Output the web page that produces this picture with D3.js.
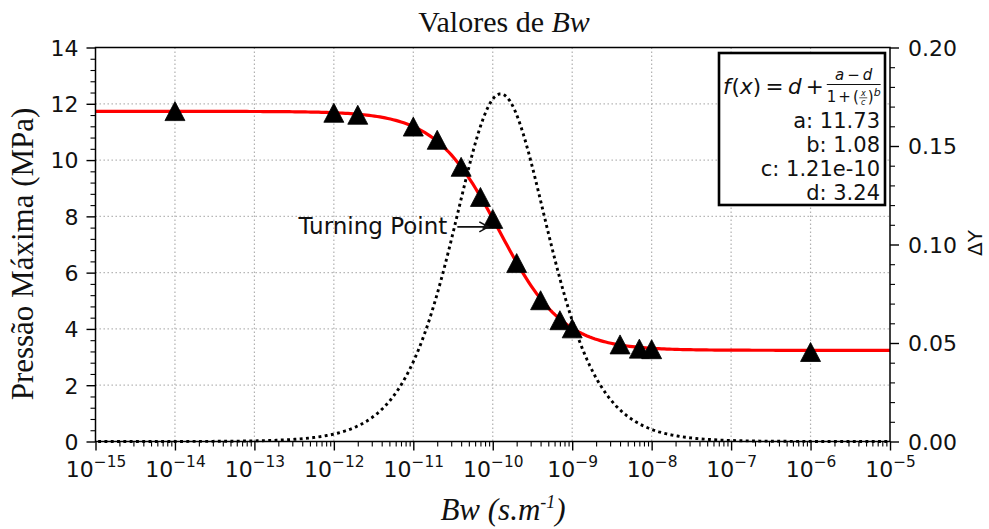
<!DOCTYPE html>
<html>
<head>
<meta charset="utf-8">
<script src="https://cdn.jsdelivr.net/npm/d3@7"></script>
<style>
  body { margin: 0; background: #fff; }
  svg { display: block; }
</style>
</head>
<body>
<svg id="chart" width="989" height="529"></svg>
<script>
// Measured maximum pressure for each Bw value
const bwValues = [1e-14, 1e-12, 2e-12, 1e-11, 2e-11, 4e-11, 7e-11, 1e-10, 2e-10, 4e-10, 7e-10, 1e-9, 4e-9, 7e-9, 1e-8, 1e-6];
const pressureValues = [11.74, 11.68, 11.61, 11.19, 10.72, 9.76, 8.69, 7.91, 6.34, 5.02, 4.31, 4.02, 3.45, 3.30, 3.28, 3.18];

// Logistic fit parameters, shown in the box
const fitNames = ["a", "b", "c", "d"];
const fitValues = [11.73, 1.08, 1.21e-10, 3.24];
const fitTexts = ["11.73", "1.08", "1.21e-10", "3.24"];

// Axis ticks
const xDecades = [-15, -14, -13, -12, -11, -10, -9, -8, -7, -6, -5];
const leftTicks = [0, 2, 4, 6, 8, 10, 12, 14];
const rightTicks = [0, 0.05, 0.10, 0.15, 0.20];

// Sampling grid for the fitted curve (log-spaced)
const gridN = 300;

const [fitA, fitB, fitC, fitD] = fitValues;
const fit = v => fitD + (fitA - fitD) / (1 + Math.pow(v / fitC, fitB));

const L = 95.5, R = 890, T = 47.5, B = 441.5;
const sans = "'DejaVu Sans', sans-serif";
const serif = "'Liberation Serif', 'Times New Roman', serif";

const svg = d3.select("#chart");
const x = d3.scaleLog().domain([1e-15, 1e-5]).range([L, R]);
const y = d3.scaleLinear().domain([0, 14]).range([B, T]);
const y2 = d3.scaleLinear().domain([0, 0.2]).range([B, T]);

// ---- grid ----
const grid = svg.append("g")
  .attr("stroke", "#b0b0b0").attr("stroke-width", 1.2).attr("stroke-dasharray", "1.4,2.6");
grid.selectAll("line.gx").data(xDecades.slice(1, -1)).join("line")
  .attr("class", "gx")
  .attr("x1", d => x(Math.pow(10, d))).attr("x2", d => x(Math.pow(10, d)))
  .attr("y1", T).attr("y2", B);
grid.selectAll("line.gy").data(leftTicks.slice(1, -1)).join("line")
  .attr("class", "gy")
  .attr("x1", L).attr("x2", R)
  .attr("y1", d => y(d)).attr("y2", d => y(d));

// ---- axes ----
function styleAxis(g, width) {
  g.select(".domain").remove();
  g.selectAll(".tick line").attr("stroke", "#000").attr("stroke-width", width);
}

const xMinor = [];
xDecades.slice(0, -1).forEach(d => { for (let k = 2; k <= 9; k++) xMinor.push(k * Math.pow(10, d)); });

svg.append("g").attr("transform", `translate(0,${B})`)
  .call(d3.axisBottom(x).tickValues(xMinor).tickSize(5).tickSizeOuter(0).tickFormat(""))
  .call(g => styleAxis(g, 1.1));

const xAxisG = svg.append("g").attr("transform", `translate(0,${B})`)
  .call(d3.axisBottom(x).tickValues(xDecades.map(d => Math.pow(10, d))).tickSize(9).tickSizeOuter(0).tickFormat(""))
  .call(g => styleAxis(g, 1.4));
xAxisG.selectAll(".tick").each(function (v, i) {
  const t = d3.select(this).select("text")
    .attr("y", 35.5).attr("dy", null)
    .attr("font-family", sans).attr("font-size", 22).attr("fill", "#111")
    .attr("text-anchor", "middle");
  t.append("tspan").text("10");
  t.append("tspan").attr("dy", -10).attr("font-size", 15.4).text("\u2212" + Math.abs(xDecades[i]));
});

const leftMinor = d3.range(0, 14.001, 0.4).filter(v => Math.abs(v / 2 - Math.round(v / 2)) > 1e-6);
svg.append("g").attr("transform", `translate(${L},0)`)
  .call(d3.axisLeft(y).tickValues(leftMinor).tickSize(5).tickSizeOuter(0).tickFormat(""))
  .call(g => styleAxis(g, 1.1));
svg.append("g").attr("transform", `translate(${L},0)`)
  .call(d3.axisLeft(y).tickValues(leftTicks).tickSize(9).tickPadding(8).tickSizeOuter(0).tickFormat(d3.format("d")))
  .call(g => styleAxis(g, 1.4))
  .call(g => g.selectAll("text").attr("font-family", sans).attr("font-size", 22).attr("fill", "#111").attr("dy", "0.36em"));

const rightMinor = d3.range(0, 0.2001, 0.01).filter(v => Math.abs(v / 0.05 - Math.round(v / 0.05)) > 1e-6);
svg.append("g").attr("transform", `translate(${R},0)`)
  .call(d3.axisRight(y2).tickValues(rightMinor).tickSize(5).tickSizeOuter(0).tickFormat(""))
  .call(g => styleAxis(g, 1.1));
svg.append("g").attr("transform", `translate(${R},0)`)
  .call(d3.axisRight(y2).tickValues(rightTicks).tickSize(9).tickPadding(9).tickSizeOuter(0).tickFormat(d3.format(".2f")))
  .call(g => styleAxis(g, 1.4))
  .call(g => g.selectAll("text").attr("font-family", sans).attr("font-size", 22).attr("fill", "#111").attr("dy", "0.36em"));

// ---- fitted curve and its increments ----
const sampleX = d3.range(gridN).map(i => Math.pow(10, -15 + 10 * i / (gridN - 1)));
const fitY = sampleX.map(fit);
const deltaPts = fitY.slice(1).map((v, i) => [sampleX[i + 1], Math.abs(v - fitY[i])]);

const plot = svg.append("g");
plot.append("path")
  .datum(sampleX.map((v, i) => [v, fitY[i]]))
  .attr("fill", "none").attr("stroke", "#ff0000").attr("stroke-width", 3.2)
  .attr("d", d3.line().x(d => x(d[0])).y(d => y(d[1])));

plot.selectAll("path.tri").data(bwValues).join("path")
  .attr("class", "tri")
  .attr("d", "M0,-9.5L10,9.5L-10,9.5Z")
  .attr("transform", (d, i) => `translate(${x(d)},${y(pressureValues[i])})`)
  .attr("fill", "#000").attr("stroke", "#000").attr("stroke-width", 0.8);

plot.append("path")
  .datum(deltaPts)
  .attr("fill", "none").attr("stroke", "#000").attr("stroke-width", 2.9)
  .attr("stroke-dasharray", "2.9,3.4")
  .attr("d", d3.line().x(d => x(d[0])).y(d => y2(d[1])));

// ---- spines ----
svg.append("rect").attr("x", L).attr("y", T).attr("width", R - L).attr("height", B - T)
  .attr("fill", "none").attr("stroke", "#000").attr("stroke-width", 1.5);

// ---- turning point annotation ----
const tpX = x(fitC), tpY = y((fitA + fitD) / 2) - 4;
const ann = svg.append("g");
ann.append("text").attr("x", tpX - 52).attr("y", tpY + 7)
  .attr("text-anchor", "end").attr("font-family", sans).attr("font-size", 23).attr("fill", "#111")
  .text("Turning Point");
ann.append("path")
  .attr("d", `M${tpX - 42},${tpY}L${tpX - 11},${tpY}M${tpX - 20},${tpY - 5}L${tpX - 11},${tpY}L${tpX - 20},${tpY + 5}`)
  .attr("fill", "none").attr("stroke", "#111").attr("stroke-width", 1.6);

// ---- fit box ----
const box = svg.append("g");
box.append("rect").attr("x", 719).attr("y", 53).attr("width", 166).attr("height", 152)
  .attr("fill", "#fff").attr("stroke", "#000").attr("stroke-width", 2.6);

function piece(g, str, x0, yb, size, italic, anchor) {
  const t = g.append("text").attr("x", x0).attr("y", yb)
    .attr("font-family", sans).attr("font-size", size).attr("fill", "#111")
    .attr("font-style", italic ? "italic" : "normal")
    .attr("text-anchor", anchor || "start").text(str);
  return t.node().getComputedTextLength();
}

// f(x) = d + (a - d) / (1 + (x/c)^b)
let cx = 723;
const base = 94, fs = 21.5;
cx += piece(box, "f", cx, base, fs, true) + 1;
cx += piece(box, "(", cx, base, fs, false);
cx += piece(box, "x", cx, base, fs, true);
cx += piece(box, ")", cx, base, fs, false) + 4.5;
cx += piece(box, "=", cx, base, fs, false) + 4.5;
cx += piece(box, "d", cx, base, fs, true) + 4;
cx += piece(box, "+", cx, base, fs, false) + 3;

const fracStart = cx, ff = 15, denBase = 102, numBase = 80, barY = 84.5;
let dx = fracStart;
dx += piece(box, "1", dx, denBase, ff, false) + 2;
dx += piece(box, "+", dx, denBase, ff, false) + 2;
dx += piece(box, "(", dx, denBase, ff, false) + 0.5;
const innerW = Math.max(
  piece(box, "x", dx + 4, denBase - 6, 8, true, "middle"),
  piece(box, "c", dx + 4, denBase + 3.2, 8, true, "middle"));
box.append("line").attr("x1", dx).attr("x2", dx + 8).attr("y1", denBase - 4.2).attr("y2", denBase - 4.2)
  .attr("stroke", "#111").attr("stroke-width", 0.7);
dx += Math.max(innerW, 8) + 0.5;
dx += piece(box, ")", dx, denBase, ff, false);
dx += piece(box, "b", dx, denBase - 6, 11, true);
const fracEnd = dx;
box.append("line").attr("x1", fracStart).attr("x2", fracEnd).attr("y1", barY).attr("y2", barY)
  .attr("stroke", "#111").attr("stroke-width", 1);
const numG = box.append("text").attr("x", (fracStart + fracEnd) / 2).attr("y", numBase)
  .attr("text-anchor", "middle").attr("font-family", sans).attr("font-size", ff).attr("fill", "#111");
numG.append("tspan").attr("font-style", "italic").text("a");
numG.append("tspan").attr("dx", 3).text("\u2212");
numG.append("tspan").attr("dx", 3).attr("font-style", "italic").text("d");

box.selectAll("text.param").data(fitNames).join("text")
  .attr("class", "param")
  .attr("x", 880).attr("y", (d, i) => 127.5 + i * 24.3)
  .attr("text-anchor", "end").attr("font-family", sans).attr("font-size", 21).attr("fill", "#111")
  .text((d, i) => `${d}: ${fitTexts[i]}`);

// ---- titles ----
const title = svg.append("text").attr("x", 504).attr("y", 32).attr("text-anchor", "middle")
  .attr("font-family", serif).attr("font-size", 30).attr("fill", "#111");
title.append("tspan").text("Valores de ");
title.append("tspan").attr("font-style", "italic").text("Bw");

const xl = svg.append("text").attr("x", 503).attr("y", 520).attr("text-anchor", "middle")
  .attr("font-family", serif).attr("font-size", 31).attr("font-style", "italic").attr("fill", "#111");
xl.append("tspan").text("Bw (s.m");
xl.append("tspan").attr("dy", -12).attr("font-size", 18).text("-1");
xl.append("tspan").attr("dy", 12).text(")");

svg.append("text").attr("transform", "translate(33,254) rotate(-90)").attr("text-anchor", "middle")
  .attr("font-family", serif).attr("font-size", 31).attr("fill", "#111")
  .text("Pressão Máxima (MPa)");

svg.append("text").attr("transform", "translate(982,243) rotate(-90)").attr("text-anchor", "middle")
  .attr("font-family", sans).attr("font-size", 20).attr("fill", "#111")
  .text("\u0394Y");
</script>
</body>
</html>
